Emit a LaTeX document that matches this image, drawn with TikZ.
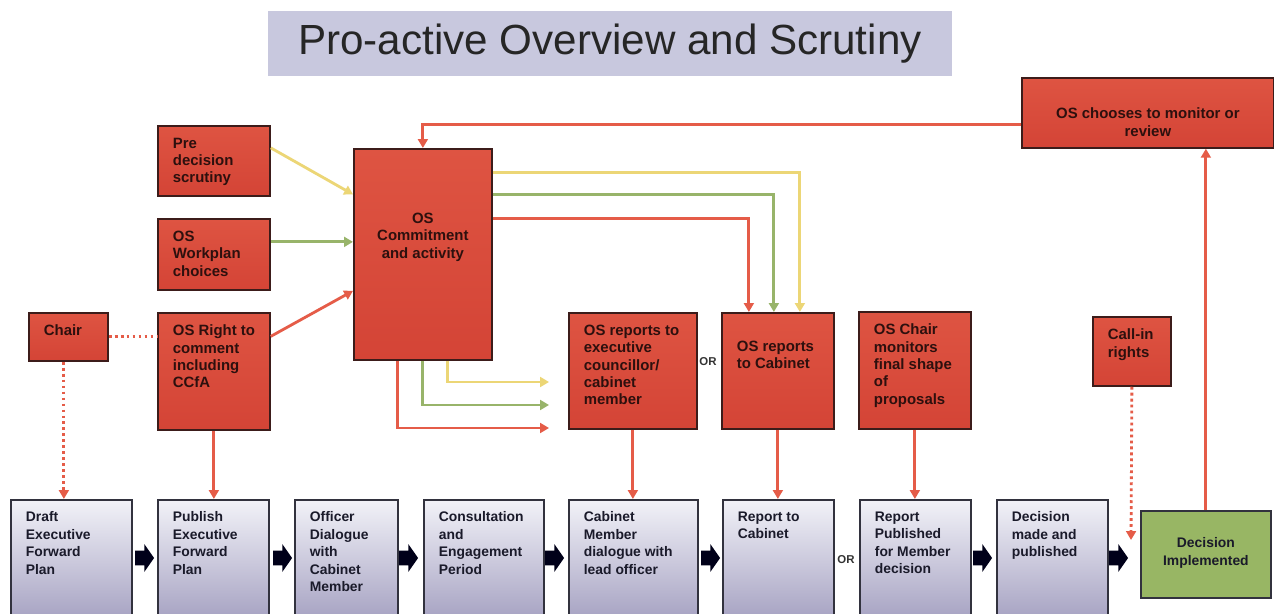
\documentclass[tikz,border=0pt]{standalone}
\usepackage{fontspec}
\setmainfont{Liberation Sans}
\usetikzlibrary{arrows.meta,positioning,shapes.arrows}
\definecolor{osred}{RGB}{212,68,54}
\definecolor{osredtop}{RGB}{222,84,66}
\definecolor{boxline}{RGB}{60,28,26}
\definecolor{redtext}{RGB}{45,16,14}
\definecolor{linkred}{RGB}{229,92,72}
\definecolor{linkyellow}{RGB}{236,214,118}
\definecolor{linkgreen}{RGB}{152,180,106}
\definecolor{steptop}{RGB}{242,242,248}
\definecolor{stepbot}{RGB}{166,162,194}
\definecolor{stepline}{RGB}{50,50,62}
\definecolor{steptext}{RGB}{26,26,42}
\definecolor{impgreen}{RGB}{152,182,100}
\definecolor{titlegrey}{RGB}{200,200,222}
\newlength{\px}\setlength{\px}{0.02cm}
\newcommand{\bt}[3]{\parbox[t][\dimexpr#2\px-24\px\relax][t]{#1\px}{\leftskip=15\px\rightskip=0pt plus 1fil\relax#3}}
\tikzset{%
	titlebox/.style  = {fill=titlegrey, minimum width=13.68cm, minimum height=1.3cm, text=black!85, font=\fontsize{24}{28}\selectfont},
	redbox/.style    = {draw=boxline, line width=1pt, top color=osredtop, bottom color=osred, anchor=north west, inner xsep=0pt, inner ysep=0.24cm, text=redtext, font=\bfseries\fontsize{8.5}{9.9}\selectfont},
	stepbox/.style   = {draw=stepline, line width=1pt, top color=steptop, bottom color=stepbot, anchor=north west, inner xsep=0pt, inner ysep=0.24cm, text=steptext, font=\bfseries\fontsize{7.9}{9.9}\selectfont},
	implbox/.style   = {draw=stepline, line width=1pt, fill=impgreen, anchor=north west, inner xsep=0pt, inner ysep=0.24cm, text=steptext, font=\bfseries\fontsize{7.9}{9.9}\selectfont},
	blockarrow/.style= {single arrow, fill=black!90!blue, minimum height=0.38cm, minimum width=0.54cm, inner xsep=0pt, inner ysep=0.14cm, single arrow head extend=0.13cm, single arrow tip angle=110},
	ortext/.style    = {font=\bfseries\fontsize{6.5}{7}\selectfont, text=black!80, inner sep=1pt},
	tip/.style       = {-{Triangle[length=5pt,width=5.5pt]}},
	redlink/.style   = {draw=linkred, line width=1.6pt, tip},
	yellowlink/.style= {draw=linkyellow, line width=1.6pt, tip},
	greenlink/.style = {draw=linkgreen, line width=1.6pt, tip},
	dotlink/.style   = {draw=linkred, line width=1.6pt, dash pattern=on 1.6pt off 1.8pt},
}

\begin{document}
\begin{tikzpicture}[x=0.02cm,y=-0.02cm]
	\useasboundingbox[fill=white] (0,0) rectangle (1274,614);
	\node[titlebox] (title) at (610,44) {Pro-active Overview and Scrutiny};

	\node[redbox] (pre) at (157,125) {\bt{112}{70}{Pre\\decision\\scrutiny}};
	\node[redbox] (work) at (157,218) {\bt{112}{71}{OS\\Workplan\\choices}};
	\node[redbox] (right) at (157,312) {\bt{112}{117}{OS Right to\\comment\\including\\CCfA}};
	\node[redbox] (chair) at (28,312) {\bt{79}{48}{Chair}};
	\node[redbox] (osc) at (353,148) {\bt{138}{211}{\centering\vspace*{52\px}OS\\Commitment\\and activity}};
	\node[redbox] (rexec) at (568,312) {\bt{128}{116}{OS reports to\\executive\\councillor/\\cabinet\\member}};
	\node[redbox] (rcab) at (721,312) {\bt{112}{116}{\vspace*{16\px}OS reports\\to Cabinet}};
	\node[redbox] (chmon) at (858,311) {\bt{112}{117}{OS Chair\\monitors\\final shape\\of\\proposals}};
	\node[redbox] (callin) at (1092,316) {\bt{78}{69}{Call-in\\rights}};
	\node[redbox] (choose) at (1021,77) {\bt{252}{70}{\centering\vspace*{18\px}OS chooses to monitor or\\review}};

	\node[stepbox] (draft) at (10,499) {\bt{121}{120}{Draft\\Executive\\Forward\\Plan}};
	\node[stepbox] (publish) at (157,499) {\bt{111}{120}{Publish\\Executive\\Forward\\Plan}};
	\node[stepbox] (officer) at (294,499) {\bt{103}{120}{Officer\\Dialogue\\with\\Cabinet\\Member}};
	\node[stepbox] (consult) at (423,499) {\bt{120}{120}{Consultation\\and\\Engagement\\Period}};
	\node[stepbox] (cabmem) at (568,499) {\bt{129}{120}{Cabinet\\Member\\dialogue with\\lead officer}};
	\node[stepbox] (repcab) at (722,499) {\bt{111}{120}{Report to\\Cabinet}};
	\node[stepbox] (reppub) at (859,499) {\bt{111}{120}{Report\\Published\\for Member\\decision}};
	\node[stepbox] (decmade) at (996,499) {\bt{111}{120}{Decision\\made and\\published}};
	\node[implbox] (impl) at (1140,510) {\bt{130}{87}{\centering\vspace*{15\px}Decision\\Implemented}};

	\foreach \x [count=\i] in {142,280,406,552,708,980,1116}
		\node[blockarrow] (flow\i) at (\x,558) {};
	\node[ortext] (or1) at (708,362) {OR};
	\node[ortext] (or2) at (846,560) {OR};

	\coordinate (yend) at (549,382);
	\coordinate (gend) at (549,405);
	\coordinate (rend) at (549,428);
	\coordinate (callend) at (1131,540);

	\draw[yellowlink] ([yshift=0.26cm]pre.east) -- ([yshift=1.2cm]osc.west);
	\draw[greenlink] ([yshift=0.25cm]work.east) -- ([yshift=0.25cm]osc.west);
	\draw[redlink] ([yshift=0.7cm]right.east) -- ([yshift=-0.73cm]osc.west);
	\draw[dotlink] (chair.east) -- (chair.east -| right.west);
	\draw[dotlink,tip] ([xshift=-0.09cm]chair.south) -- ([xshift=-0.09cm]chair.south |- draft.north);
	\draw[redlink] (right.south) -- (right.south |- publish.north);
	\draw[redlink] ([yshift=-0.24cm]choose.west) -| (osc.north);
	\draw[yellowlink] ([yshift=1.64cm]osc.east) -| ([xshift=0.44cm]rcab.north);
	\draw[greenlink] ([yshift=1.19cm]osc.east) -| ([xshift=-0.08cm]rcab.north);
	\draw[redlink] ([yshift=0.71cm]osc.east) -| ([xshift=-0.58cm]rcab.north);
	\draw[yellowlink] ([xshift=0.5cm]osc.south) |- (yend);
	\draw[greenlink] (osc.south) |- (gend);
	\draw[redlink] ([xshift=-0.5cm]osc.south) |- (rend);
	\draw[redlink] (rexec.south) -- (rexec.south |- cabmem.north);
	\draw[redlink] (rcab.south) -- (rcab.south |- repcab.north);
	\draw[redlink] (chmon.south) -- (chmon.south |- reppub.north);
	\draw[dotlink,tip] (callin.south) -- (callend);
	\draw[redlink] (impl.north) -- (impl.north |- choose.south);
\end{tikzpicture}
\end{document}
